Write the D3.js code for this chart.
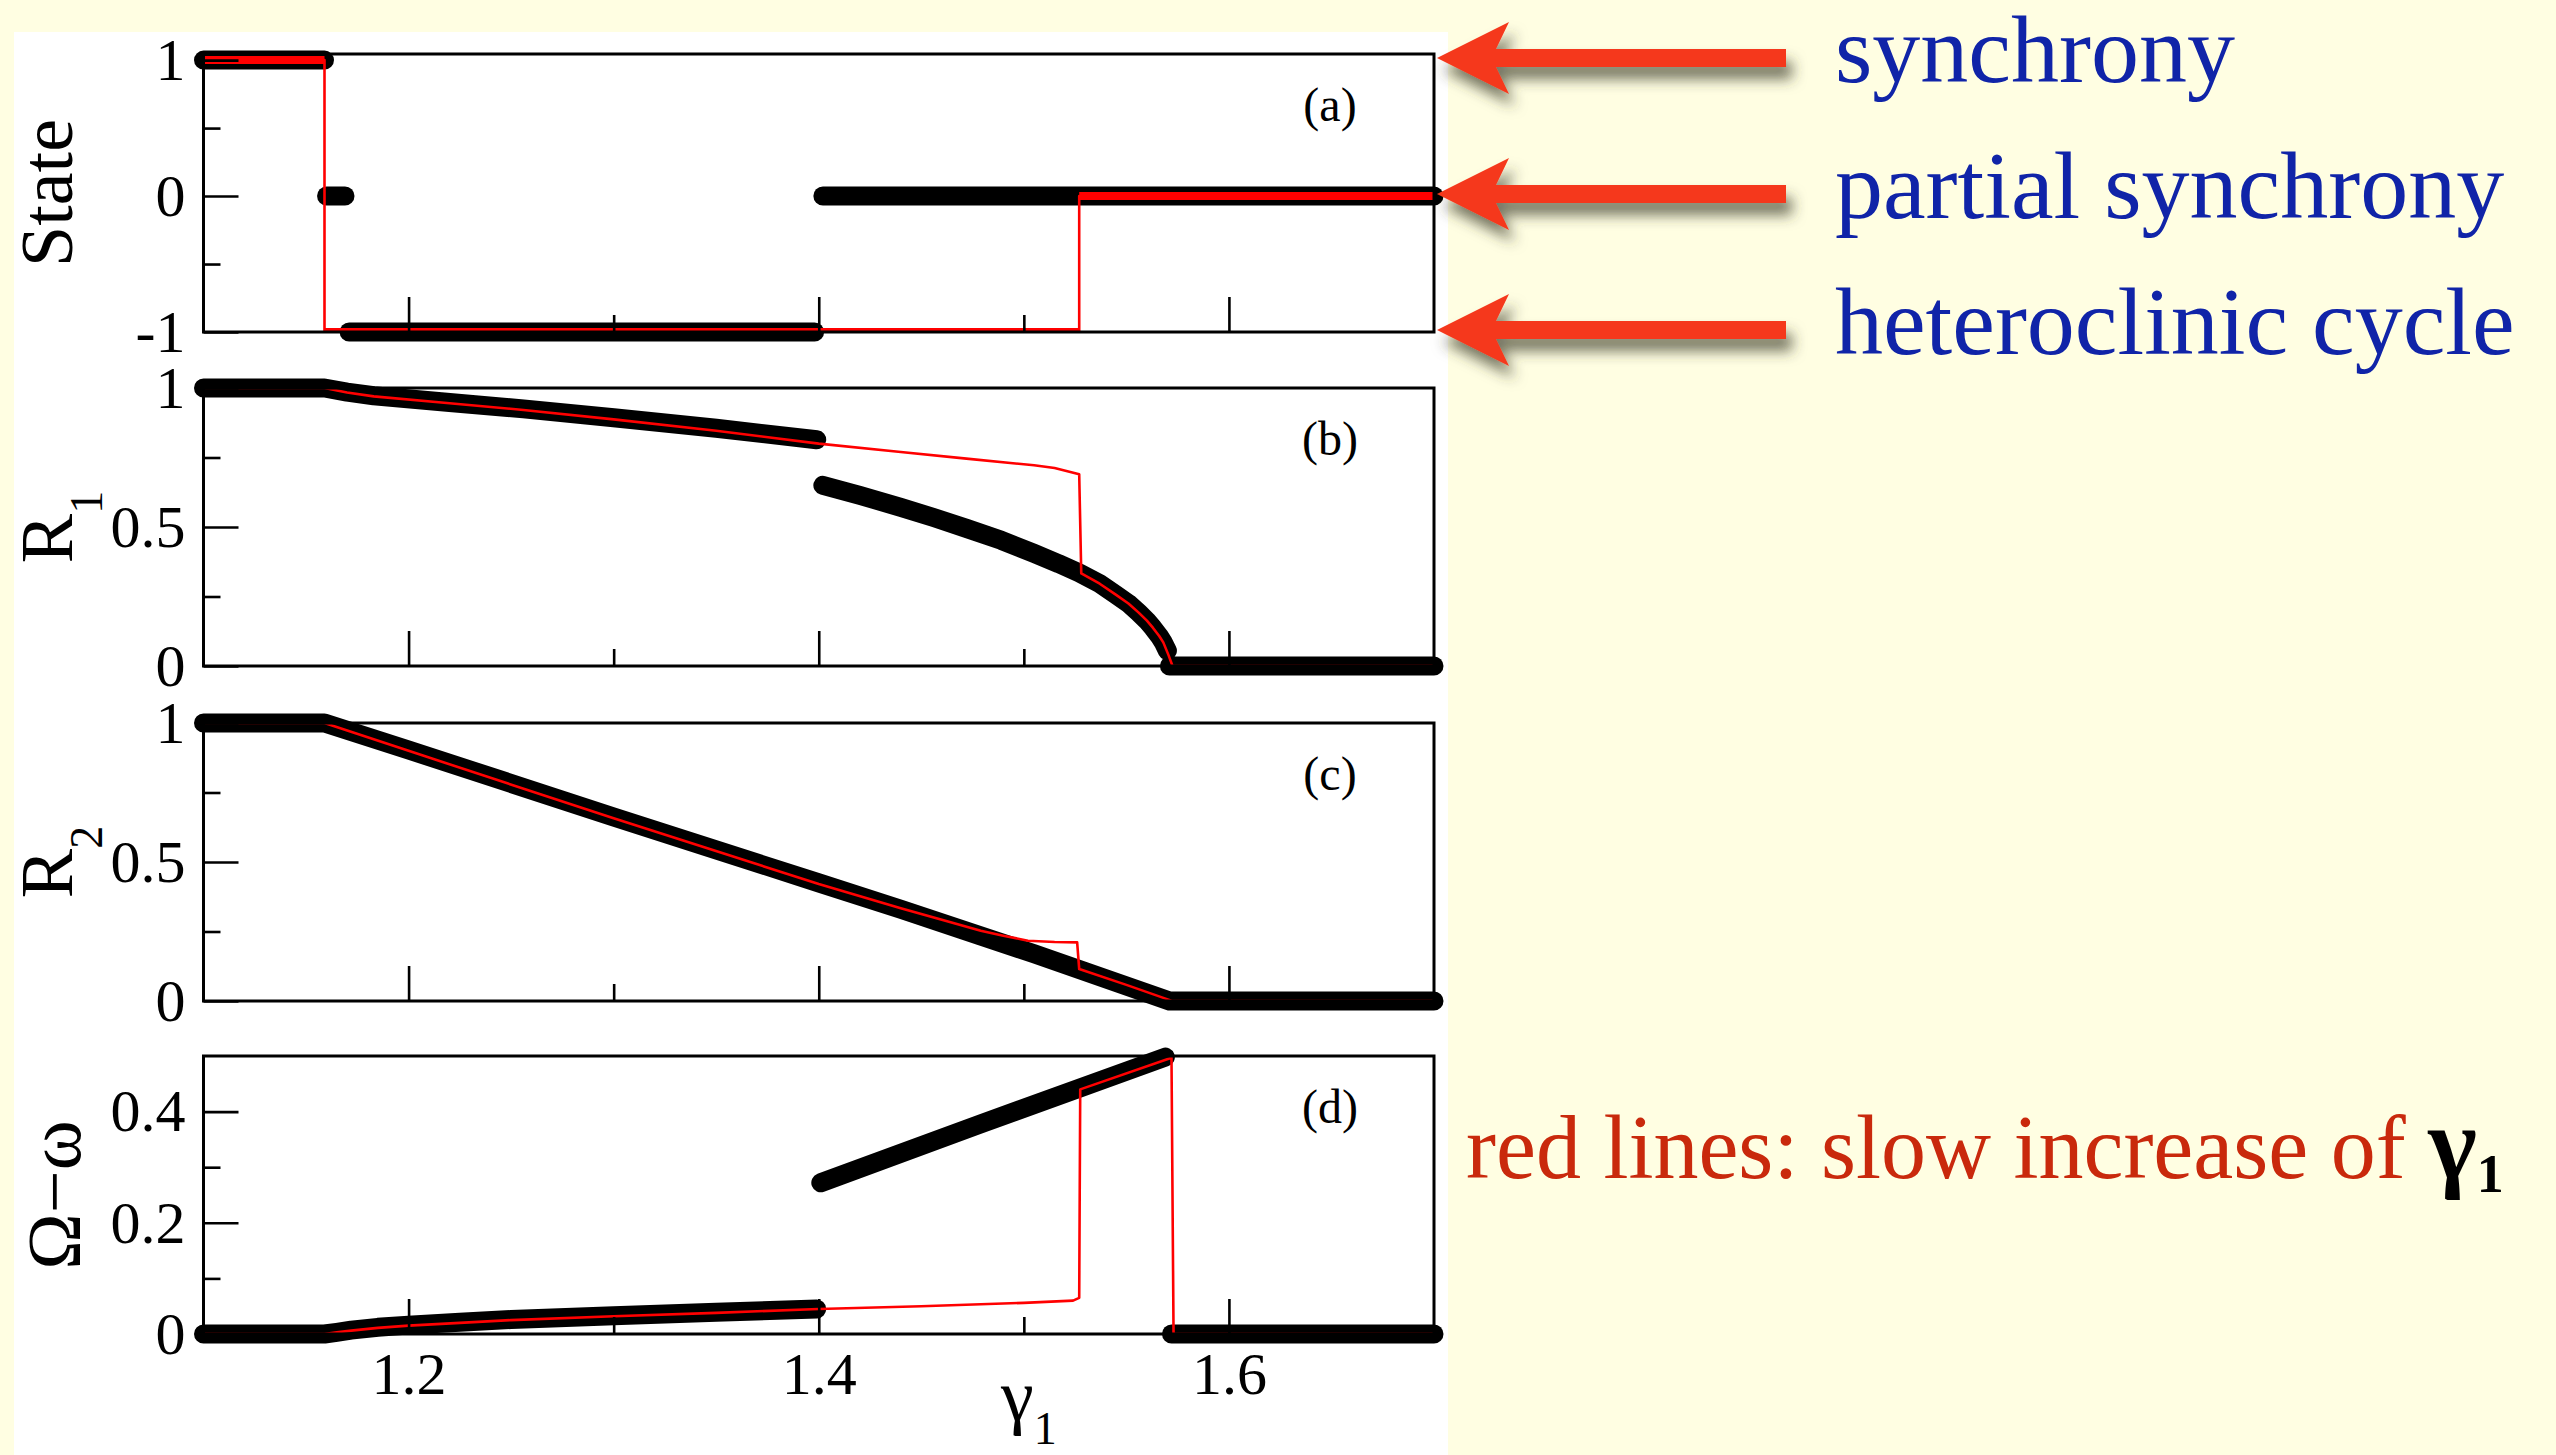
<!DOCTYPE html>
<html>
<head>
<meta charset="utf-8">
<script src="https://cdn.jsdelivr.net/npm/d3@7"></script>
<style>
  html, body { margin: 0; padding: 0; background: #fffee2; }
  svg { display: block; }
</style>
</head>
<body>
<svg id="chart" width="2556" height="1455"></svg>
<script>
// ---- control parameter gamma_1 ----
const xDomain = [1.1, 1.7];
const xMajorTicks = [1.2, 1.4, 1.6];
const xMinorTicks = [1.3, 1.5];
const xTickLabels = ["1.2", "1.4", "1.6"];

// ---- (a) state: 1 = synchrony, 0 = partial synchrony, -1 = heteroclinic cycle ----
const stateDomain = [-1, 1.045];
const stateMajor = [-1, 0, 1];
const stateMinor = [-0.5, 0.5];
const stateLabels = ["-1", "0", "1"];
const stateBlack = [
  [[1.100, 1], [1.159, 1]],
  [[1.160, 0], [1.169, 0]],
  [[1.171, -1], [1.398, -1]],
  [[1.402, 0], [1.700, 0]]
];
const stateRed = [[1.100, 1], [1.159, 1], [1.159, -1], [1.527, -1], [1.527, 0], [1.700, 0]];
const stateNames = ["synchrony", "partial synchrony", "heteroclinic cycle"];
const stateLevels = [1, 0, -1];

// ---- (b) R1 ----
const r1Domain = [0, 1];
const r1Major = [0, 0.5, 1];
const r1Minor = [0.25, 0.75];
const r1Labels = ["0", "0.5", "1"];
const r1Black = [
  [[1.100, 1], [1.159, 1], [1.170, 0.985], [1.183, 0.972], [1.220, 0.948], [1.256, 0.925],
   [1.300, 0.893], [1.350, 0.855], [1.399, 0.814]],
  [[1.402, 0.650], [1.420, 0.614], [1.440, 0.571], [1.456, 0.534], [1.472, 0.495], [1.489, 0.452],
   [1.505, 0.405], [1.517, 0.368], [1.527, 0.335], [1.537, 0.296], [1.545, 0.256], [1.551, 0.225],
   [1.556, 0.192], [1.560, 0.163], [1.563, 0.137], [1.566, 0.108], [1.568, 0.085], [1.570, 0.055]],
  [[1.571, 0], [1.700, 0]]
];
const r1Red = [
  [1.100, 1], [1.159, 1], [1.170, 0.984], [1.183, 0.970], [1.220, 0.945], [1.256, 0.921],
  [1.300, 0.887], [1.350, 0.846], [1.400, 0.800], [1.440, 0.770], [1.472, 0.746], [1.505, 0.722],
  [1.515, 0.712], [1.527, 0.690], [1.528, 0.333], [1.537, 0.296], [1.545, 0.256], [1.551, 0.225],
  [1.556, 0.192], [1.560, 0.163], [1.563, 0.137], [1.566, 0.108], [1.568, 0.085], [1.5705, 0.040],
  [1.5725, 0], [1.700, 0]
];

// ---- (c) R2 ----
const r2Domain = [0, 1];
const r2Major = [0, 0.5, 1];
const r2Minor = [0.25, 0.75];
const r2Labels = ["0", "0.5", "1"];
const r2Black = [
  [[1.100, 1], [1.159, 1], [1.200, 0.903], [1.300, 0.662], [1.400, 0.425], [1.440, 0.330],
   [1.505, 0.170], [1.571, 0], [1.700, 0]]
];
const r2Red = [
  [1.100, 1], [1.159, 1], [1.200, 0.900], [1.300, 0.657], [1.400, 0.421], [1.440, 0.334],
  [1.460, 0.292], [1.479, 0.253], [1.490, 0.235], [1.502, 0.217], [1.515, 0.212], [1.526, 0.211],
  [1.527, 0.115], [1.550, 0.058], [1.5705, 0.005], [1.572, 0], [1.700, 0]
];

// ---- (d) Omega - omega ----
const omDomain = [0, 0.5];
const omMajor = [0, 0.2, 0.4];
const omMinor = [0.1, 0.3];
const omLabels = ["0", "0.2", "0.4"];
const omBlack = [
  [[1.100, 0], [1.159, 0], [1.165, 0.003], [1.172, 0.007], [1.185, 0.012], [1.200, 0.016],
   [1.225, 0.021], [1.250, 0.026], [1.300, 0.033], [1.350, 0.039], [1.399, 0.045]],
  [[1.401, 0.272], [1.479, 0.378], [1.569, 0.498]],
  [[1.572, 0], [1.700, 0]]
];
const omRed = [
  [1.100, 0], [1.159, 0], [1.165, 0.003], [1.172, 0.006], [1.185, 0.011], [1.200, 0.015],
  [1.225, 0.020], [1.250, 0.025], [1.300, 0.032], [1.350, 0.038], [1.400, 0.045], [1.450, 0.050],
  [1.500, 0.056], [1.524, 0.060], [1.527, 0.065], [1.5275, 0.440], [1.572, 0.497], [1.573, 0], [1.700, 0]
];

// ---- layout ----
const W = 2556, H = 1455;
const plotLeft = 203.5, plotRight = 1434, panelH = 278;
const serif = "'Liberation Serif', 'Times New Roman', Times, serif";

const svg = d3.select("#chart");
const defs = svg.append("defs");

svg.append("rect").attr("width", W).attr("height", H).attr("fill", "#fffee2");
svg.append("rect").attr("x", 14).attr("y", 32).attr("width", 1434).attr("height", H - 32).attr("fill", "#ffffff");

const x = d3.scaleLinear().domain(xDomain).range([plotLeft, plotRight]);

const panels = [
  { id: "a", top: 54, domain: stateDomain, major: stateMajor, minor: stateMinor, labels: stateLabels,
    title: [["State", null]], titleX: 72, titleSize: 74, black: stateBlack, red: stateRed, plateau: true },
  { id: "b", top: 388, domain: r1Domain, major: r1Major, minor: r1Minor, labels: r1Labels,
    title: [["R", null], ["1", 30]], titleX: 72, titleSize: 74, black: r1Black, red: r1Red },
  { id: "c", top: 723, domain: r2Domain, major: r2Major, minor: r2Minor, labels: r2Labels,
    title: [["R", null], ["2", 30]], titleX: 72, titleSize: 74, black: r2Black, red: r2Red },
  { id: "d", top: 1056, domain: omDomain, major: omMajor, minor: omMinor, labels: omLabels,
    title: [["\u03A9\u2212\u03C9", null]], titleX: 80, titleSize: 76, black: omBlack, red: omRed, xLabels: true }
];

let stateScale = null;

panels.forEach(p => {
  const bottom = p.top + panelH;
  const y = d3.scaleLinear().domain(p.domain).range([bottom, p.top]);
  if (p.id === "a") stateScale = y;
  const line = d3.line().x(d => x(d[0])).y(d => y(d[1]));
  const g = svg.append("g").attr("class", "panel-" + p.id);

  defs.append("clipPath").attr("id", "clip-" + p.id)
    .append("rect").attr("x", plotLeft).attr("y", p.top)
    .attr("width", plotRight - plotLeft).attr("height", panelH);

  // black branches: densely sampled stationary states
  g.append("g").selectAll("path").data(p.black).join("path")
    .attr("d", line)
    .attr("fill", "none").attr("stroke", "#000")
    .attr("stroke-width", 19)
    .attr("stroke-linecap", "round").attr("stroke-linejoin", "round");

  // red: slow adiabatic increase of gamma_1
  const rg = g.append("g").attr("clip-path", `url(#clip-${p.id})`);
  rg.append("path").datum(p.red).attr("d", line)
    .attr("fill", "none").attr("stroke", "#ff0000").attr("stroke-width", 2.6)
    .attr("stroke-linejoin", "round");
  if (p.plateau) {
    const flats = d3.pairs(p.red).filter(([u, v]) => u[1] === v[1]);
    rg.selectAll("path.flat").data(flats).join("path").attr("class", "flat")
      .attr("d", line)
      .attr("fill", "none").attr("stroke", "#ff0000").attr("stroke-width", 8);
  }

  // y axis (ticks pointing inward)
  const yAxis = g.append("g").attr("transform", `translate(${plotLeft},0)`)
    .call(d3.axisLeft(y).tickValues(p.major).tickSize(-35).tickPadding(18)
      .tickFormat((d, i) => p.labels[i]));
  g.append("g").attr("transform", `translate(${plotLeft},0)`)
    .call(d3.axisLeft(y).tickValues(p.minor).tickSize(-17).tickFormat(""));

  // x axis
  const xAxis = g.append("g").attr("transform", `translate(0,${bottom})`)
    .call(d3.axisBottom(x).tickValues(xMajorTicks).tickSize(-35).tickPadding(17)
      .tickFormat((d, i) => p.xLabels ? xTickLabels[i] : ""));
  g.append("g").attr("transform", `translate(0,${bottom})`)
    .call(d3.axisBottom(x).tickValues(xMinorTicks).tickSize(-17).tickFormat(""));

  g.selectAll(".domain").remove();
  g.selectAll(".tick line").attr("stroke", "#000").attr("stroke-width", 2.6);
  g.selectAll(".tick text").attr("fill", "#000")
    .attr("font-family", serif).attr("font-size", 60);
  yAxis.attr("font-family", serif).attr("font-size", 60);
  xAxis.attr("font-family", serif).attr("font-size", 60);

  // frame
  g.append("rect").attr("x", plotLeft).attr("y", p.top)
    .attr("width", plotRight - plotLeft).attr("height", panelH)
    .attr("fill", "none").attr("stroke", "#000").attr("stroke-width", 3);

  // panel tag
  g.append("text").attr("x", 1330).attr("y", p.top + 67)
    .attr("text-anchor", "middle").attr("font-family", serif).attr("font-size", 48)
    .text(`(${p.id})`);

  // y title
  const cy = (p.top + bottom) / 2;
  const t = g.append("text")
    .attr("transform", `translate(${p.titleX},${cy}) rotate(-90)`)
    .attr("text-anchor", "middle").attr("font-family", serif).attr("font-size", p.titleSize);
  p.title.forEach(([s, dy]) => {
    const ts = t.append("tspan").text(s);
    if (dy !== null) ts.attr("dy", dy).attr("font-size", 46);
  });
});

// x title
const xt = svg.append("text").attr("x", 1001).attr("y", 1420)
  .attr("font-family", serif).attr("font-size", 74);
xt.append("tspan").text("\u03B3");
xt.append("tspan").attr("dy", 24).attr("font-size", 46).text("1");

// ---- state arrows with drop shadow ----
const shadow = defs.append("filter").attr("id", "arrowShadow")
  .attr("x", "-20%").attr("y", "-60%").attr("width", "140%").attr("height", "220%");
shadow.append("feDropShadow").attr("dx", 6).attr("dy", 12).attr("stdDeviation", 7)
  .attr("flood-color", "#3c3c2c").attr("flood-opacity", 0.7);

const tipX = plotRight + 3;
const headLen = 72, headHalf = 36, barb = 59, shaftHalf = 9, shaftEnd = 349;
function arrowPath(cy) {
  const p = d3.path();
  p.moveTo(tipX, cy);
  p.lineTo(tipX + headLen, cy - headHalf);
  p.lineTo(tipX + barb, cy - shaftHalf);
  p.lineTo(tipX + shaftEnd, cy - shaftHalf);
  p.lineTo(tipX + shaftEnd, cy + shaftHalf);
  p.lineTo(tipX + barb, cy + shaftHalf);
  p.lineTo(tipX + headLen, cy + headHalf);
  p.closePath();
  return p.toString();
}

const ann = svg.append("g");
ann.selectAll("path").data(stateLevels).join("path")
  .attr("d", v => arrowPath(stateScale(v) - 2))
  .attr("fill", "#f5391b")
  .attr("filter", "url(#arrowShadow)");

ann.selectAll("text").data(stateLevels).join("text")
  .attr("x", 1835).attr("y", v => stateScale(v) + 22)
  .attr("font-family", serif).attr("font-size", 96).attr("fill", "#1024a8")
  .text((v, i) => stateNames[i]);

// ---- note on red curves ----
const note = svg.append("text").attr("x", 1466).attr("y", 1178)
  .attr("font-family", serif).attr("font-size", 90);
note.append("tspan").attr("fill", "#c9290c").text("red lines: slow increase of\u00A0");
note.append("tspan").attr("fill", "#000").attr("font-weight", "bold")
  .attr("font-size", 104).text("\u03B3");
note.append("tspan").attr("dy", 14).attr("fill", "#000").attr("font-weight", "bold")
  .attr("font-size", 54).text("1");
</script>
</body>
</html>
